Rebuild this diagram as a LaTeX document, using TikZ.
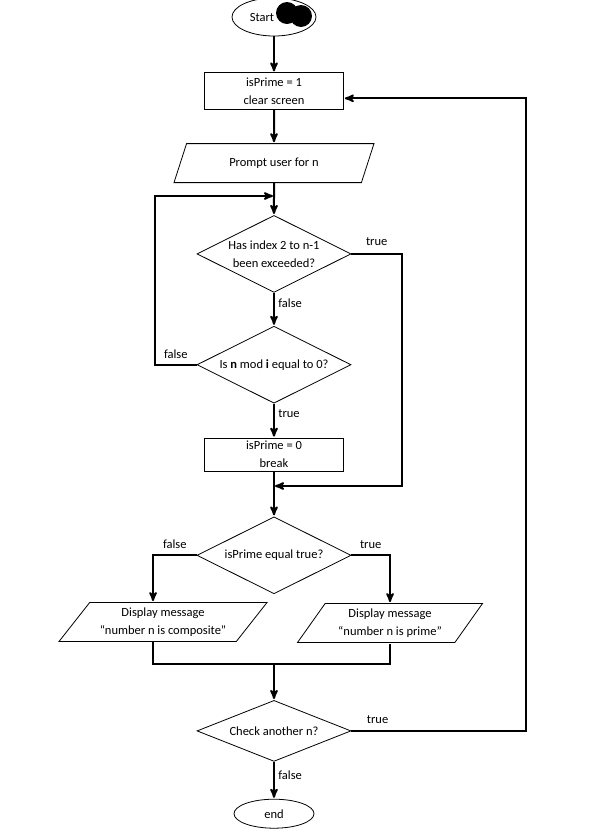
\documentclass[tikz,border=0pt]{standalone}
\usepackage{fontspec}
\setmainfont{Carlito}
\usetikzlibrary{arrows,shapes.geometric,positioning}

\begin{document}
\begin{tikzpicture}[x=1pt,y=-1pt,>=stealth',shorten >=1pt,
    font=\fontsize{12.5}{18}\selectfont,
    flow/.style={->,line width=2pt},
    line/.style={line width=2pt},
    term node/.style={ellipse,draw,line width=0.8pt,inner sep=0pt},
    proc node/.style={rectangle,draw,line width=0.8pt,minimum width=139pt,align=center,inner sep=0pt},
    io node/.style={trapezium,trapezium left angle=45,trapezium right angle=135,trapezium stretches body,draw,line width=0.8pt,minimum height=39pt,align=center,inner sep=1pt},
    test node/.style={diamond,aspect=2,draw,line width=0.8pt,minimum width=154pt,minimum height=77pt,align=center,inner sep=-8pt}]

  \useasboundingbox (0,0) rectangle (594,836);

  \node[term node,minimum width=84pt,minimum height=38pt] (start) at (274,17) {Start\kern24pt};
  \fill (287,13) circle[radius=11pt] (301,16) circle[radius=11pt];

  \node[proc node,minimum height=37pt] (init) [below=36pt of start] {isPrime = 1\\clear screen};
  \node[io node,minimum width=200pt] (prompt) [below=33pt of init] {Prompt user for n};
  \node[test node] (idx) [below=32pt of prompt] {Has index 2 to n-1\\been exceeded?};
  \node[test node] (mod) [below=33pt of idx] {Is \textbf{n} mod \textbf{i} equal to 0?};
  \node[proc node,minimum height=33pt] (brk) [below=34pt of mod] {isPrime = 0\\break};
  \node[test node] (iseq) [below=45pt of brk] {isPrime equal true?};
  \node[io node,minimum width=208pt] (dispc) at (163,622) {Display message\\“number n is composite”};
  \node[io node,minimum width=185pt,trapezium left angle=48,trapezium right angle=132] (dispp) at (390,623) {Display message\\“number n is prime”};
  \coordinate (merge) at (274,664);
  \node[test node,minimum height=61pt] (again) [below=36pt of merge] {Check another n?};
  \node[term node,minimum width=80pt,minimum height=29pt] (end) [below=37pt of again] {end};

  % side tracks of the loops
  \coordinate (join1) at (274,196);
  \coordinate (join2) at (274,486);
  \coordinate (ltrack) at (155,0);
  \coordinate (mtrack) at (402,0);
  \coordinate (rtrack) at (526,0);

  \path[flow]
        (start) edge (init)
        (init) edge (prompt)
        (prompt) edge (idx)
        (idx) edge node[pos=0.3,right] {false} (mod)
        (mod) edge node[pos=0.3,right] {true} (brk)
        (brk) edge (iseq)
        (merge) edge (again)
        (again) edge node[pos=0.35,right] {false} (end);

  \draw[flow] (idx.east) -- node[above=4pt] {true} (idx.east -| mtrack) |- (join2);
  \draw[flow] (mod.west) -- node[above=2pt] {false} (mod.west -| ltrack) |- (join1);
  \draw[flow] (iseq.west) -| node[pos=0.25,above=2pt] {false} ([xshift=-10pt]dispc.north);
  \draw[flow] (iseq.east) -| node[pos=0.25,above=2pt] {true} (dispp.north);
  \draw[line] ([xshift=-10pt]dispc.south) |- (merge) -| (dispp.south);
  \draw[flow] (again.east) -- node[pos=0.15,above=3pt] {true} (again.east -| rtrack) |- ([yshift=-7pt]init.east);

\end{tikzpicture}
\end{document}
